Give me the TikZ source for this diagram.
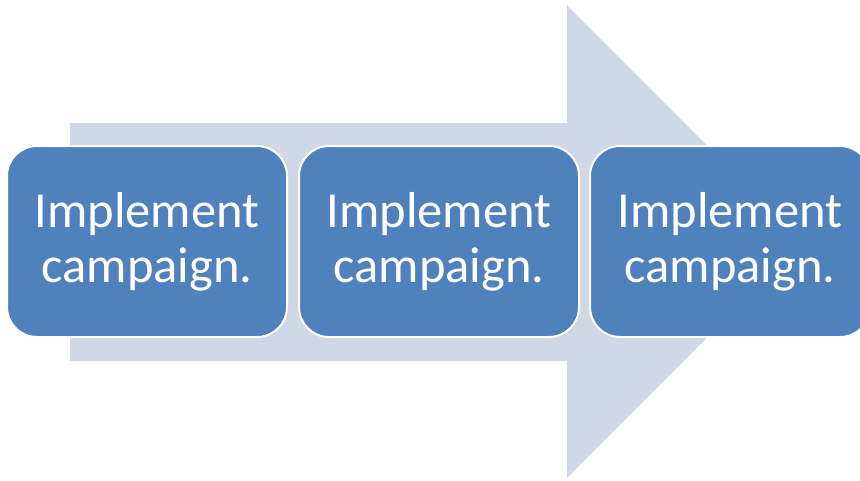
\documentclass[tikz,border=0pt]{standalone}
\usepackage{fontspec}
\setmainfont{Carlito}
\definecolor{stepblue}{HTML}{4F81BD}
\definecolor{arrowgrey}{HTML}{D0D8E8}

\begin{document}
\begin{tikzpicture}[x=1pt, y=-1pt,
    stage/.style ={rectangle, rounded corners=30pt, draw=white, line width=2pt, fill=stepblue,
      text=white, minimum width=280pt, minimum height=191pt, align=center,
      font=\fontsize{50.5}{55}\selectfont}]
   \useasboundingbox (0,0) rectangle (860,480);
   % big background arrow
   \fill[arrowgrey] (70,123) -- (567,123) -- (567,5) -- (803,241.5)
      -- (567,478) -- (567,361) -- (70,361) -- cycle;
   \node[stage] (A)  at (147,241.5)  {Implement\\campaign.};
   \node[stage] (B)  at (439,241.5)  {Implement\\campaign.};
   \node[stage] (C)  at (730,241.5)  {Implement\\campaign.};
\end{tikzpicture}
\end{document}
